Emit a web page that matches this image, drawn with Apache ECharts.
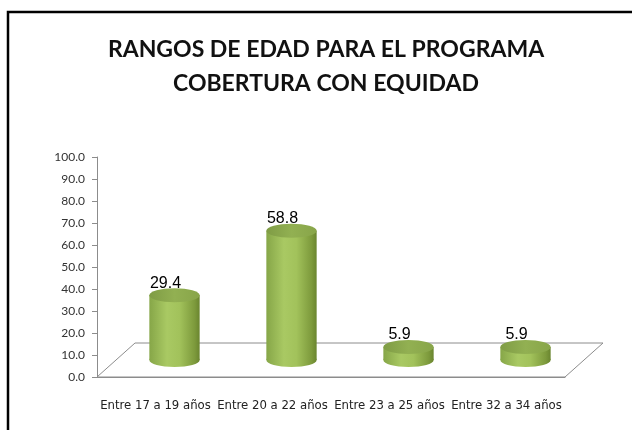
<!DOCTYPE html>
<html>
<head>
<meta charset="utf-8">
<script src="https://cdn.jsdelivr.net/npm/echarts@6/dist/echarts.min.js"></script>
<style>
  html, body { margin: 0; padding: 0; background: #fff; }
  #chart { width: 632px; height: 430px; }
</style>
</head>
<body>
<div id="chart"></div>
<script>
var categories = ['Entre 17 a 19 años', 'Entre 20 a 22 años', 'Entre 23 a 25 años', 'Entre 32 a 34 años'];
var values = [29.4, 58.8, 5.9, 5.9];
var yTicks = { min: 0, max: 100, step: 10 };

// depth of the fake 3D floor
var depthX = 38, depthY = -34;

var myChart = echarts.init(document.getElementById('chart'));

function renderFloor(params, api) {
	var cs = params.coordSys;
	var bx = cs.x, by = cs.y + cs.height, w = cs.width;
	return {
		type: 'polygon',
		shape: { points: [[bx, by], [bx + w, by], [bx + w + depthX, by + depthY], [bx + depthX, by + depthY]] },
		style: { fill: 'none', stroke: '#8c8c8c', lineWidth: 1 },
		silent: true
	};
}

function renderCylinder(params, api) {
	var idx = api.value(0);
	var val = api.value(1);
	var base = api.coord([idx, 0]);
	var top = api.coord([idx, val]);
	var bandW = api.size([1, 0])[0];
	var rx = bandW * 0.215, ry = 7;
	var cx = base[0] + depthX / 2;
	var by = base[1] + depthY / 2;
	var ty = by - (base[1] - top[1]);
	var body = new echarts.graphic.LinearGradient(0, 0, 1, 0, [
		{ offset: 0, color: '#86a648' },
		{ offset: 0.35, color: '#a9c963' },
		{ offset: 0.6, color: '#a2c25b' },
		{ offset: 0.9, color: '#7d9a3c' },
		{ offset: 1, color: '#6a852f' }
	]);
	return {
		type: 'group',
		children: [
			{ type: 'ellipse', shape: { cx: cx, cy: by, rx: rx, ry: ry }, style: { fill: body } },
			{ type: 'rect', shape: { x: cx - rx, y: ty, width: rx * 2, height: by - ty }, style: { fill: body } },
			{ type: 'ellipse', shape: { cx: cx, cy: ty, rx: rx, ry: ry },
			  style: { fill: new echarts.graphic.LinearGradient(0, 0, 1, 0, [
				{ offset: 0, color: '#7f9c45' }, { offset: 0.5, color: '#92b052' }, { offset: 1, color: '#88a549' }]) } },
			{ type: 'text', x: cx - 9, y: ty - 12,
			  style: { text: val.toFixed(1), fill: '#000', font: '16px "Liberation Sans", sans-serif', align: 'center', verticalAlign: 'middle' } }
		]
	};
}

var option = {
	animation: false,
	title: {
		text: 'RANGOS DE EDAD PARA EL PROGRAMA\nCOBERTURA CON EQUIDAD',
		left: 321,
		top: 28,
		textAlign: 'center',
		textStyle: { fontFamily: 'Lato', fontWeight: 'bold', fontSize: 23, lineHeight: 34, color: '#111' }
	},
	graphic: [{
		type: 'rect', silent: true, z: 100,
		shape: { x: 8, y: 12, width: 700, height: 500 },
		style: { fill: 'none', stroke: '#000', lineWidth: 2.5 }
	}],
	grid: { left: 97, right: 67, top: 157, bottom: 53 },
	xAxis: {
		type: 'category',
		data: categories,
		axisLine: { lineStyle: { color: '#8c8c8c' } },
		axisTick: { length: 5, lineStyle: { color: '#8c8c8c' } },
		axisLabel: { interval: 0, margin: 22, color: '#222', fontFamily: '"DejaVu Sans Condensed", "DejaVu Sans"', fontSize: 13 }
	},
	yAxis: {
		type: 'value',
		min: yTicks.min, max: yTicks.max, interval: yTicks.step,
		axisLine: { show: true, lineStyle: { color: '#8c8c8c' } },
		axisTick: { show: true, length: 5, lineStyle: { color: '#8c8c8c' } },
		splitLine: { show: false },
		axisLabel: { margin: 12, color: '#333', fontFamily: 'Lato', fontSize: 12,
			formatter: function (v) { return v.toFixed(1); } }
	},
	series: [{
		type: 'custom',
		name: 'floor',
		z: 1,
		silent: true,
		renderItem: renderFloor,
		data: [[0, 0]]
	}, {
		type: 'custom',
		name: 'edad',
		z: 3,
		renderItem: renderCylinder,
		encode: { x: 0, y: 1 },
		data: values.map(function (v, i) { return [i, v]; })
	}]
};

myChart.setOption(option);
</script>
</body>
</html>
